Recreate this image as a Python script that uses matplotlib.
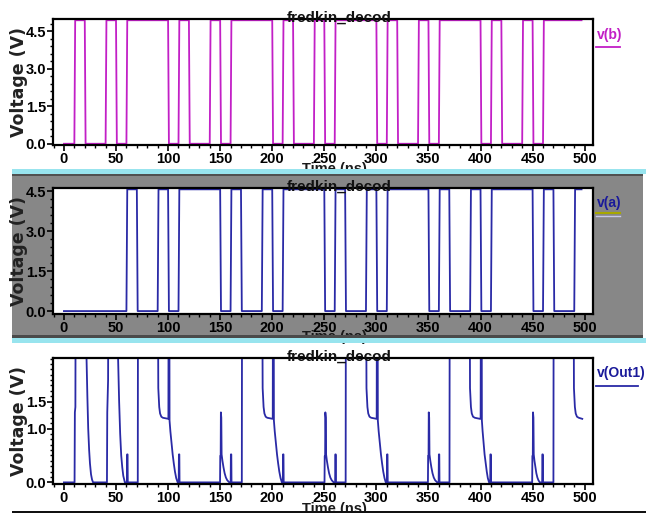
import matplotlib
matplotlib.use("Agg")
import matplotlib.pyplot as plt
from matplotlib.patches import Rectangle
from matplotlib.lines import Line2D
from matplotlib.ticker import MultipleLocator, FixedLocator, FormatStrFormatter

# ---------------- data ----------------
title = "fredkin_decod"
x_label = "Time (ns)"
y_label = "Voltage (V)"
x_ticks = [0, 50, 100, 150, 200, 250, 300, 350, 400, 450, 500]
y_ticks_ab = [0.0, 1.5, 3.0, 4.5]
y_ticks_out = [0.0, 1.0, 1.5]
t_end = 497.0

# v(b): toggle times (starts low)
b_edges = [10, 20, 40, 50, 60, 100, 110, 120, 140, 150, 160, 200, 210, 220, 240,
           250, 260, 300, 310, 320, 340, 350, 360, 400, 410, 420, 440, 450, 460]
b_low, b_high = 0.0, 4.95

# v(a): toggle times (starts low)
a_edges = [60, 70, 90, 100, 110, 150, 160, 170, 190, 200, 210, 250, 260, 270,
           290, 300, 310, 350, 360, 370, 390, 400, 410, 450, 460, 470, 490]
a_low, a_high = 0.0, 4.58

# v(Out1): (time ns, volts)
out1_points = [
    (0, 0), (10.2, 0), (10.5, 1.3), (11.0, 1.4), (11.4, 5), (20.5, 5), (21.7, 2.3),
    (22.5, 1.6), (23.3, 1.0), (24.2, 0.6), (25.0, 0.35), (26.0, 0.15), (27.0, 0.05), (28.0, 0),
    (41.3, 0), (41.6, 1.3), (42.4, 1.9), (42.8, 5), (51.0, 5), (52.0, 2.3), (53.0, 1.5),
    (54.0, 0.9), (55.0, 0.5), (56.0, 0.28), (57.0, 0.12), (58.5, 0),
    (60.5, 0), (60.7, 0.52), (61.1, 0.52), (61.3, 0), (70.9, 0), (71.2, 5),
    # cycle 90-171
    (90.0, 5), (90.5, 2.3), (90.6, 1.75), (91.5, 1.4), (92.3, 1.28), (93.5, 1.22), (95.0, 1.2),
    (99.8, 1.18), (100.3, 1.18), (100.6, 5), (101.1, 5), (101.4, 1.15), (102.2, 0.95),
    (103.2, 0.75), (104.4, 0.52), (105.5, 0.35), (106.6, 0.2), (107.8, 0.08), (109.2, 0),
    (110.2, 0), (110.4, 0.52), (110.8, 0.52), (111.0, 0),
    (149.9, 0), (150.1, 0.49), (150.5, 0.49), (150.7, 1.3), (151.1, 1.2), (151.4, 0.52),
    (152.2, 0.4), (153.2, 0.28), (154.3, 0.17), (155.5, 0.09), (156.8, 0.04), (158.8, 0),
    (160.1, 0), (160.3, 0.52), (160.7, 0.52), (160.9, 0), (170.8, 0), (171.1, 5),
    # cycle 190-271
    (190.2, 5), (190.7, 2.3), (190.8, 1.75), (191.7, 1.4), (192.5, 1.28), (193.7, 1.22), (195.2, 1.2),
    (200.0, 1.18), (200.5, 1.18), (200.8, 5), (201.3, 5), (201.6, 1.15), (202.4, 0.95),
    (203.4, 0.75), (204.6, 0.52), (205.7, 0.35), (206.8, 0.2), (208.0, 0.08), (209.3, 0),
    (210.2, 0), (210.4, 0.52), (210.8, 0.52), (211.0, 0),
    (250.2, 0), (250.4, 0.49), (250.8, 0.49), (251.0, 1.3), (251.4, 1.2), (251.7, 0.52),
    (252.5, 0.4), (253.5, 0.28), (254.6, 0.17), (255.8, 0.09), (257.1, 0.04), (259.0, 0),
    (260.4, 0), (260.6, 0.52), (261.0, 0.52), (261.2, 0), (270.5, 0), (270.8, 5),
    # cycle 290-371
    (290.0, 5), (290.4, 2.3), (290.5, 1.75), (291.4, 1.4), (292.2, 1.28), (293.4, 1.22), (295.0, 1.2),
    (299.8, 1.18), (300.3, 1.18), (300.6, 5), (301.1, 5), (301.4, 1.15), (302.2, 0.95),
    (303.2, 0.75), (304.4, 0.52), (305.5, 0.35), (306.6, 0.2), (307.8, 0.08), (309.0, 0),
    (310.1, 0), (310.3, 0.52), (310.7, 0.52), (310.9, 0),
    (349.5, 0), (349.7, 0.49), (350.1, 0.49), (350.3, 1.3), (350.7, 1.2), (351.0, 0.52),
    (351.8, 0.4), (352.8, 0.28), (353.9, 0.17), (355.1, 0.09), (356.4, 0.04), (358.4, 0),
    (359.8, 0), (360.0, 0.52), (360.4, 0.52), (360.6, 0), (370.2, 0), (370.5, 5),
    # cycle 390-471
    (389.5, 5), (389.8, 2.3), (389.9, 1.75), (390.8, 1.4), (391.6, 1.28), (392.8, 1.22), (394.5, 1.2),
    (399.5, 1.18), (400.1, 1.18), (400.5, 5), (401.0, 5), (401.3, 1.15), (402.0, 0.95),
    (402.9, 0.75), (403.9, 0.52), (405.0, 0.35), (406.0, 0.2), (407.0, 0.08), (408.2, 0),
    (409.3, 0), (409.5, 0.52), (409.9, 0.52), (410.1, 0),
    (449.6, 0), (449.8, 0.49), (450.2, 0.49), (450.4, 1.3), (450.8, 1.2), (451.1, 0.52),
    (451.8, 0.4), (452.7, 0.28), (453.6, 0.17), (454.6, 0.09), (455.6, 0.04), (456.9, 0),
    (459.2, 0), (459.4, 0.52), (459.8, 0.52), (460.0, 0), (470.0, 0), (470.3, 5),
    # final
    (489.2, 5), (489.6, 2.3), (489.7, 1.75), (490.6, 1.4), (491.4, 1.28), (492.6, 1.22),
    (494.3, 1.2), (497.7, 1.18),
]
out1_t = [p[0] for p in out1_points]
out1_v = [p[1] for p in out1_points]

# ---------------- styling ----------------
NARROW = ['Liberation Sans Narrow', 'Liberation Sans', 'DejaVu Sans']
plt.rcParams['font.family'] = NARROW
plt.rcParams['font.weight'] = 'bold'

W, H = 646, 513
fig = plt.figure(figsize=(W / 100, H / 100), dpi=100)
fig.patch.set_facecolor('white')


def px_rect(l, t, r, b):
    return [l / W, 1 - b / H, (r - l) / W, (b - t) / H]


def fx(x):
    return x / W


def fy(y):
    return 1 - y / H


def band(l, t, r, b, color, z):
    fig.add_artist(Rectangle((fx(l), fy(b)), (r - l) / W, (b - t) / H,
                             transform=fig.transFigure, facecolor=color,
                             edgecolor='none', zorder=z))


def step_path(edges, lo, hi, end, ramp=0.8):
    t, v, cur = [0.0], [lo], lo
    for e in edges:
        nxt = hi if cur == lo else lo
        t += [e, e + ramp]
        v += [cur, nxt]
        cur = nxt
    t.append(end)
    v.append(cur)
    return t, v


# gray middle panel background
band(12, 174, 643, 337, '#878787', -5)

MAG = '#c21fc6'
BLUE = '#2a2aa6'


def setup(ax, ylim, yticks, yminor):
    ax.set_xlim(-10.5, 508)
    ax.set_ylim(*ylim)
    ax.set_facecolor('white')
    ax.xaxis.set_major_locator(FixedLocator(x_ticks))
    ax.xaxis.set_minor_locator(MultipleLocator(10))
    ax.yaxis.set_major_locator(FixedLocator(yticks))
    ax.yaxis.set_minor_locator(MultipleLocator(yminor))
    ax.yaxis.set_major_formatter(FormatStrFormatter('%.1f'))
    ax.tick_params(which='major', direction='out', length=4, width=1.2, pad=1,
                   labelsize=10.5, colors='black')
    ax.tick_params(which='minor', direction='out', length=2.5, width=1)
    for s in ax.spines.values():
        s.set_linewidth(1.6)
        s.set_color('black')


panels = [
    (19, 145, (-0.05, 5.0), y_ticks_ab, 0.3),
    (188, 314, (-0.11, 4.63), y_ticks_ab, 0.3),
    (358, 484, (-0.03, 2.31), y_ticks_out, 0.1),
]
axes = []
for top, bot, ylim, yt, ym in panels:
    ax = fig.add_axes(px_rect(53, top, 593, bot))
    setup(ax, ylim, yt, ym)
    ax.text(0.53, 1 - 2.5 / (bot - top), title, transform=ax.transAxes,
            ha='center', va='baseline', fontsize=11, fontweight='bold',
            color='#111111', zorder=5, clip_on=False)
    fig.text(fx(19.5), fy((top + bot) / 2), y_label, rotation=90, ha='center',
             va='center', fontsize=12.5, family=['DejaVu Sans'], fontweight='bold',
             color='#222222')
    axes.append(ax)

ax1, ax2, ax3 = axes

bt, bv = step_path(b_edges, b_low, b_high, t_end)
ax1.plot(bt, bv, color=MAG, lw=1.3)
at, av = step_path(a_edges, a_low, a_high, t_end)
ax2.plot(at, av, color=BLUE, lw=1.3)
ax3.plot(out1_t, out1_v, color=BLUE, lw=1.3)

# x labels (partially hidden by separators, like the reference)
for y in (162.5, 330, 502.5):
    fig.text(fx(334), fy(y), x_label, ha='center', va='top', fontsize=10.5,
             fontweight='bold', color='#1a1a1a', zorder=1)

# legend-like labels on the right
fig.text(fx(597), fy(35), 'v(b)', ha='left', va='center', fontsize=10, color=MAG)
fig.add_artist(Line2D([fx(596), fx(620)], [fy(46.5)] * 2, color=MAG, lw=1.3))
fig.text(fx(597), fy(203), 'v(a)', ha='left', va='center', fontsize=10, color='#1a1a9a')
fig.add_artist(Line2D([fx(596), fx(620)], [fy(213)] * 2, color='#a8a800', lw=1.5))
fig.add_artist(Line2D([fx(596), fx(620)], [fy(215.5)] * 2, color='#c8c8e8', lw=1.0))
fig.text(fx(597), fy(373), 'v(Out1)', ha='left', va='center', fontsize=10, color='#1a1a9a')
fig.add_artist(Line2D([fx(596), fx(638)], [fy(386)] * 2, color=BLUE, lw=1.3))

# separators
band(12, 168.5, 646, 173.5, '#98e4ee', 10)
band(12, 173.5, 643, 176, '#505050', 10)
band(12, 335, 643, 338, '#4a4a4a', 10)
band(12, 338, 646, 343, '#98e4ee', 10)
band(12, 510.5, 646, 513, '#111111', 10)

fig.savefig('out.png', dpi=100, facecolor='white')
